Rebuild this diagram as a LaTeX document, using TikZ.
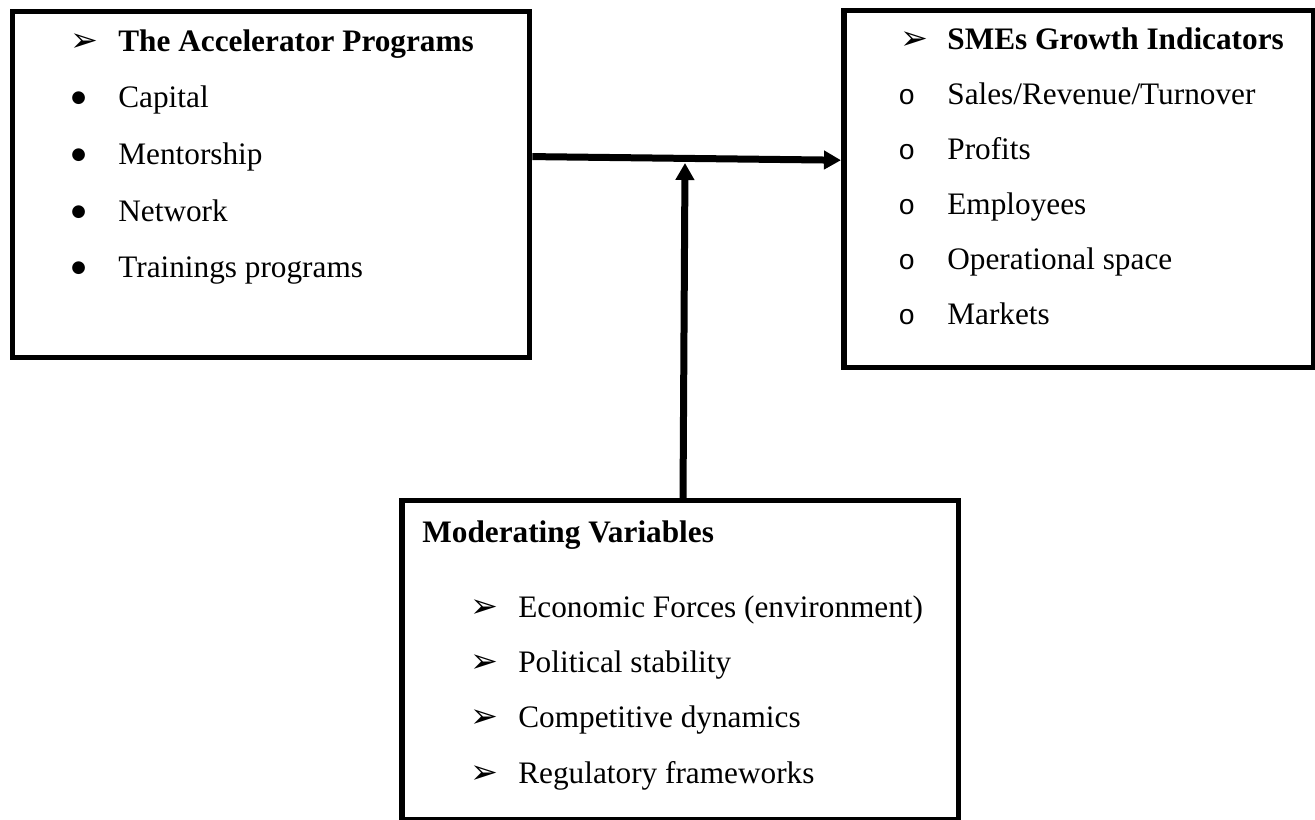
\documentclass[tikz,border=0pt]{standalone}
\usepackage{fontspec}
\setmainfont{Liberation Serif}
\newfontfamily\dingfont{DejaVu Sans}
\newfontfamily\ofont{Liberation Mono}
\usetikzlibrary{arrows.meta,calc}

\begin{document}
\begin{tikzpicture}[x=0.02cm,y=-0.02cm,
    frame/.style={draw,line width=0.11cm,anchor=north west,inner sep=0pt},
    txt/.style={anchor=base west,inner sep=0pt,font=\fontsize{17.8}{21}\selectfont},
    bold/.style={txt,font=\fontsize{17.8}{21}\selectfont\bfseries},
    arr/.style={anchor=base west,inner sep=0pt,font=\dingfont\fontsize{19}{21}\selectfont},
    dot/.style={anchor=base west,inner sep=0pt,font=\dingfont\fontsize{9.5}{12}\selectfont},
    ring/.style={anchor=base west,inner sep=0pt,font=\ofont\fontsize{16}{18}\selectfont},
    link/.style={line width=0.14cm,-{Triangle[length=3.4mm,width=3.6mm]}}]
        \useasboundingbox (0,0) rectangle (1315,820);

        % the three boxes
        \node [frame, minimum width=10.34cm, minimum height=6.92cm] (acc) at (10,9) {};
        \node [frame, minimum width=9.4cm, minimum height=7.14cm] (grow) at (841,8) {};
        \node [frame, minimum width=11.14cm, minimum height=6.38cm] (mod) at (399,498) {};

        % accelerator programs
        \node [arr] (acc-m0) at (70,52) {➢};
        \node [bold] (acc-t0) at (118,52) {The Accelerator Programs};
        \node [dot] (acc-m1) at (71,103) {●};
        \node [txt] (acc-t1) at (118,108) {Capital};
        \node [dot] (acc-m2) at (71,160) {●};
        \node [txt] (acc-t2) at (118,165) {Mentorship};
        \node [dot] (acc-m3) at (71,217) {●};
        \node [txt] (acc-t3) at (118,222) {Network};
        \node [dot] (acc-m4) at (71,273) {●};
        \node [txt] (acc-t4) at (118,278) {Trainings programs};

        % growth indicators
        \node [arr] (grow-m0) at (900,50) {➢};
        \node [bold] (grow-t0) at (947,50) {SMEs Growth Indicators};
        \node [ring] (grow-m1) at (898,105) {o};
        \node [txt] (grow-t1) at (947,105) {Sales/Revenue/Turnover};
        \node [ring] (grow-m2) at (898,160) {o};
        \node [txt] (grow-t2) at (947,160) {Profits};
        \node [ring] (grow-m3) at (898,215) {o};
        \node [txt] (grow-t3) at (947,215) {Employees};
        \node [ring] (grow-m4) at (898,270) {o};
        \node [txt] (grow-t4) at (947,270) {Operational space};
        \node [ring] (grow-m5) at (898,325) {o};
        \node [txt] (grow-t5) at (947,325) {Markets};

        % moderating variables
        \node [bold] (mod-t0) at (422,542) {Moderating Variables};
        \node [arr] (mod-m1) at (470,617) {➢};
        \node [txt] (mod-t1) at (518,617) {Economic Forces (environment)};
        \node [arr] (mod-m2) at (470,672) {➢};
        \node [txt] (mod-t2) at (518,672) {Political stability};
        \node [arr] (mod-m3) at (470,727) {➢};
        \node [txt] (mod-t3) at (518,727) {Competitive dynamics};
        \node [arr] (mod-m4) at (470,783) {➢};
        \node [txt] (mod-t4) at (518,783) {Regulatory frameworks};

        % arrows
        \coordinate (join) at (685,163);
        \draw [link] ($(acc.north east)!0.42!(acc.south east)$) -- ($(grow.north west)!0.42!(grow.south west)$);
        \draw [link] ($(mod.north west)!0.505!(mod.north east)$) -- (join);
\end{tikzpicture}
\end{document}
